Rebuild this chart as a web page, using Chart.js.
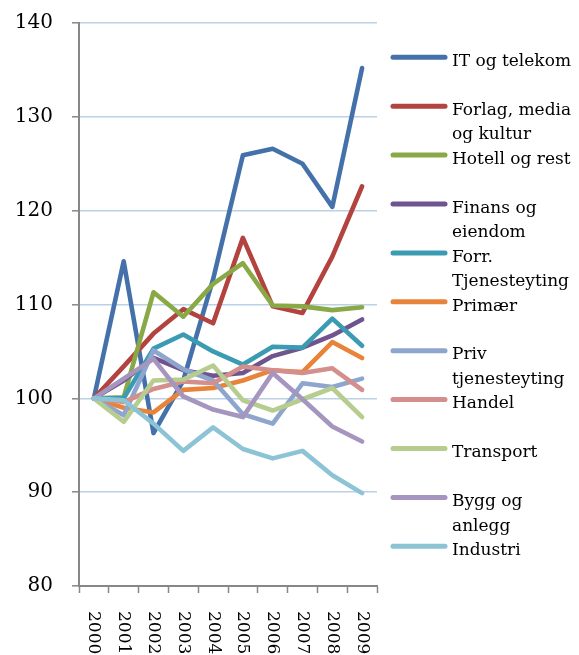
<!DOCTYPE html>
<html><head><meta charset="utf-8">
<script src="https://cdn.jsdelivr.net/npm/chart.js@4.4.1/dist/chart.umd.min.js"></script>
<style>html,body{margin:0;padding:0;background:#fff}#wrap{position:relative;width:579px;height:655px}</style>
</head><body><div id="wrap"><canvas id="c" width="579" height="655"></canvas></div>
<script>
// ---- data ----
const years = ['2000','2001','2002','2003','2004','2005','2006','2007','2008','2009'];
const seriesNames = ['IT og telekom','Forlag, media\nog kultur','Hotell og rest','Finans og\neiendom','Forr.\nTjenesteyting','Primær','Priv\ntjenesteyting','Handel','Transport','Bygg og\nanlegg','Industri'];
const itTelekom   = [100, 114.6, 96.3, 101.9, 112.7, 125.9, 126.6, 125.0, 120.4, 135.2];
const forlag      = [100, 103.4, 106.9, 109.5, 108.0, 117.1, 109.8, 109.1, 115.1, 122.6];
const hotell      = [100, 100.1, 111.3, 108.7, 112.2, 114.4, 109.9, 109.8, 109.4, 109.7];
const finans      = [100, 101.9, 104.3, 103.0, 102.4, 102.7, 104.5, 105.4, 106.7, 108.4];
const forrTjen    = [100, 100.0, 105.3, 106.8, 105.0, 103.6, 105.5, 105.4, 108.5, 105.6];
const primaer     = [100, 99.0, 98.5, 100.9, 101.1, 101.9, 103.0, 102.8, 106.0, 104.3];
const privTjen    = [100, 98.2, 105.1, 103.1, 101.9, 98.3, 97.3, 101.6, 101.2, 102.1];
const handel      = [100, 99.6, 101.0, 101.8, 101.6, 103.4, 103.0, 102.7, 103.2, 100.9];
const transport   = [100, 97.5, 101.9, 102.0, 103.5, 99.8, 98.7, 99.9, 101.1, 98.0];
const bygg        = [100, 102.1, 104.2, 100.2, 98.8, 98.0, 102.7, 99.9, 97.0, 95.4];
const industri    = [100, 99.8, 97.3, 94.4, 96.9, 94.6, 93.6, 94.4, 91.8, 89.9];
const yTicks = [80, 90, 100, 110, 120, 130, 140];

// ---- styles ----
const colors = ['#4471AA','#B3433F','#88A946','#6F548F','#3A9BB3','#E8843A','#8EA6CE','#D48E8C','#B6CD8F','#A696BF','#8CC4D6'];
const allSeries = [itTelekom, forlag, hotell, finans, forrTjen, primaer, privTjen, handel, transport, bygg, industri];
const FONT = '"DejaVu Serif", serif';
const AXIS = '#878787';

const datasets = allSeries.map((d, i) => ({
  label: seriesNames[i],
  data: d,
  borderColor: colors[i],
  backgroundColor: colors[i],
  borderWidth: 4.6,
  pointRadius: 0,
  tension: 0,
  borderJoinStyle: 'round',
  borderCapStyle: 'round',
  order: allSeries.length - i
}));

const customText = {
  id: 'customText',
  afterDraw(chart) {
    const ctx = chart.ctx;
    const xs = chart.scales.x;
    const area = chart.chartArea;
    ctx.save();
    ctx.fillStyle = '#000';
    ctx.font = '17px ' + FONT;
    // rotated x labels, reading top to bottom
    xs.ticks.forEach((t, i) => {
      const x = xs.getPixelForTick(i);
      ctx.save();
      ctx.translate(x, area.bottom + 25);
      ctx.rotate(Math.PI / 2);
      ctx.textAlign = 'left';
      ctx.textBaseline = 'middle';
      ctx.fillText(years[i], 0, 0);
      ctx.restore();
    });
    // legend
    chart.data.datasets.forEach((ds, i) => {
      const y = area.top + 34.3 + i * 48.9;
      ctx.beginPath();
      ctx.strokeStyle = ds.borderColor;
      ctx.lineWidth = 5;
      ctx.lineCap = 'round';
      ctx.moveTo(area.right + 16, y);
      ctx.lineTo(area.right + 68, y);
      ctx.stroke();
      ctx.textAlign = 'left';
      ctx.textBaseline = 'alphabetic';
      ds.label.split('\n').forEach((line, k) => {
        ctx.fillText(line, area.right + 75, y + 8.7 + k * 24.5);
      });
    });
    ctx.restore();
  }
};

new Chart(document.getElementById('c'), {
  type: 'line',
  data: { labels: years, datasets },
  options: {
    responsive: false,
    animation: false,
    devicePixelRatio: 1,
    layout: { autoPadding: false, padding: { top: 23, right: 202, bottom: 0, left: 0 } },
    plugins: { legend: { display: false }, tooltip: { enabled: false } },
    scales: {
      x: {
        type: 'category',
        offset: true,
        grid: { offset: true, drawOnChartArea: false, drawTicks: true, tickLength: 7, tickColor: AXIS, tickWidth: 1.5 },
        border: { color: AXIS, width: 2 },
        ticks: { display: false },
        afterFit(s) { s.height = 69; }
      },
      y: {
        min: 80, max: 140,
        afterBuildTicks(s) { s.ticks = yTicks.map(v => ({ value: v })); },
        grid: { color: '#BCD0E6', lineWidth: 1.6, drawTicks: true, tickLength: 7, tickColor: AXIS, tickWidth: 1.5 },
        border: { color: AXIS, width: 2 },
        ticks: { color: '#000', font: { family: FONT, size: 20 }, padding: 19 },
        afterFit(s) { s.width = 79; s.paddingTop = 0; s.paddingBottom = 0; }
      }
    }
  },
  plugins: [customText]
});
</script></body></html>
